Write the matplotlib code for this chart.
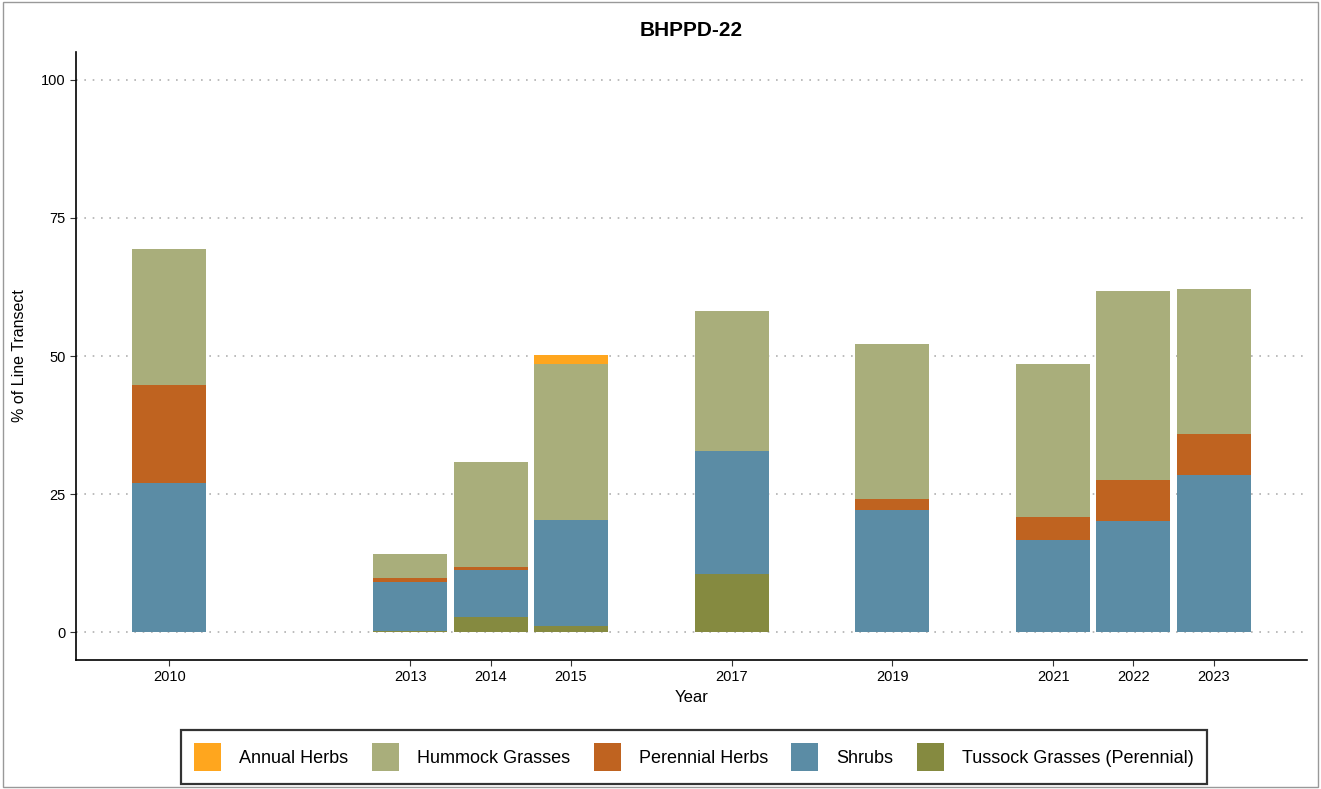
import numpy as np
import matplotlib.pyplot as plt
from matplotlib.patches import Rectangle

plt.rcParams['font.family'] = ['Liberation Sans', 'DejaVu Sans']

years = [2010, 2013, 2014, 2015, 2017, 2019, 2021, 2022, 2023]

# stacked from the bottom up
tussock = [0.0, 0.3, 2.7, 1.1, 10.5, 0.0, 0.0, 0.0, 0.0]
shrubs = [27.1, 8.9, 8.5, 19.3, 22.4, 22.1, 16.8, 20.1, 28.4]
perennial = [17.7, 0.7, 0.6, 0.0, 0.0, 2.1, 4.0, 7.4, 7.4]
hummock = [24.5, 4.2, 19.1, 28.2, 25.3, 27.9, 27.8, 34.3, 26.4]
annual = [0.0, 0.0, 0.0, 1.5, 0.0, 0.0, 0.0, 0.0, 0.0]

series = [
    ('Tussock Grasses (Perennial)', tussock, '#858A40'),
    ('Shrubs', shrubs, '#5B8CA5'),
    ('Perennial Herbs', perennial, '#BF6320'),
    ('Hummock Grasses', hummock, '#A9AE7B'),
    ('Annual Herbs', annual, '#FFA61E'),
]
legend_order = ['Annual Herbs', 'Hummock Grasses', 'Perennial Herbs', 'Shrubs',
                'Tussock Grasses (Perennial)']

fig = plt.figure(figsize=(13.21, 7.89), dpi=100)
ax = fig.add_axes([76 / 1321, 1 - 660 / 789, (1307 - 76) / 1321, (660 - 52) / 789])

bottom = np.zeros(len(years))
handles = {}
for name, vals, col in series:
    vals = np.array(vals)
    b = ax.bar(years, vals, width=0.92, bottom=bottom, color=col, label=name, zorder=2)
    handles[name] = b
    bottom += vals

ax.set_xlim(2008.84, 2024.16)
ax.set_ylim(-5, 105)
ax.set_yticks([0, 25, 50, 75, 100])
ax.set_xticks(years)
ax.set_xticklabels([str(y) for y in years])
ax.tick_params(labelsize=10.5, colors='#333333', length=4)
ax.tick_params(labelcolor='black')
ax.yaxis.grid(True, linestyle=(0, (1, 4)), color='#b0b0b0', linewidth=1.2)
ax.set_axisbelow(True)
for s in ['top', 'right']:
    ax.spines[s].set_visible(False)
for s in ['left', 'bottom']:
    ax.spines[s].set_linewidth(1.2)

ax.set_xlabel('Year', fontsize=12, labelpad=4)
ax.set_ylabel('% of Line Transect', fontsize=11.5, labelpad=10)
fig.text(691 / 1321, 1 - 30 / 789, 'BHPPD-22', ha='center', va='center',
         fontsize=15, fontweight='bold')

leg = fig.legend([handles[n] for n in legend_order], legend_order,
                 loc='center', bbox_to_anchor=(694 / 1321, 1 - 757 / 789),
                 ncol=5, fontsize=13, frameon=True, fancybox=False,
                 edgecolor='black', handlelength=1.5, handleheight=2.0,
                 columnspacing=1.3, handletextpad=1.0, borderpad=0.7,
                 borderaxespad=0)
leg.get_frame().set_linewidth(1.6)

fig.patches.append(Rectangle((0.002, 0.002), 0.996, 0.996, transform=fig.transFigure,
                             fill=False, edgecolor='#999999', linewidth=1))

fig.savefig('out.png', dpi=100)
